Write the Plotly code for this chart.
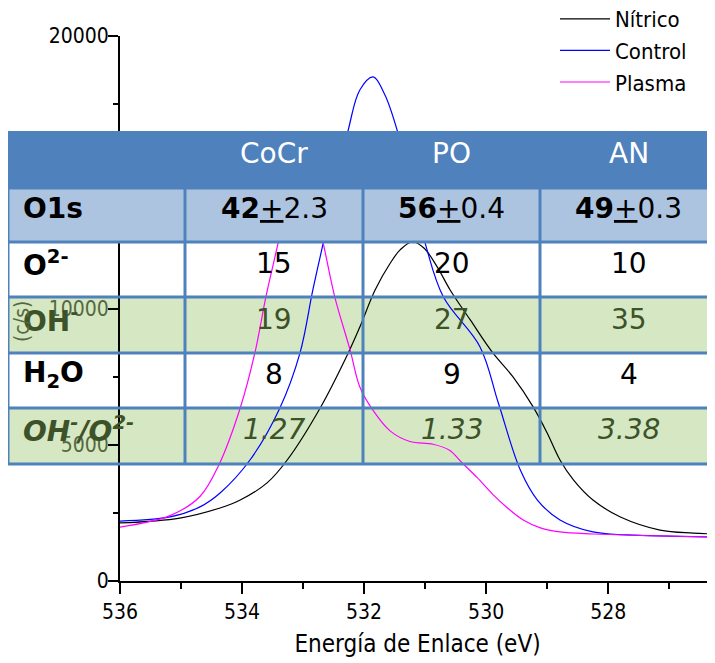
import plotly.graph_objects as go

# ---------------- data ----------------
nitrico_x = [536.00, 535.02, 534.36, 534.03, 533.59, 533.26, 532.72, 532.26, 532.07, 531.82, 531.57, 531.41,
             531.21, 531.02, 530.80, 530.59, 530.26, 529.89, 529.56, 529.23, 529.00, 528.79, 528.57,
             528.25, 527.80, 527.15, 526.61, 526.25]
nitrico_y = [2130, 2310, 2680, 2970, 3600, 4440, 6350, 8370, 9320, 10680, 11670, 12150,
             12450, 12220, 11520, 10680, 9580, 8370, 7490, 6390, 5430, 4440, 3710,
             2970, 2350, 1870, 1760, 1725]

control_x = [536.00, 535.18, 534.69, 534.36, 533.87, 533.38, 533.05, 532.84, 532.67, 532.26, 532.07, 531.85,
             531.66, 531.46, 531.00, 530.70, 530.10, 529.80, 529.44, 529.16, 528.79, 528.25,
             527.69, 526.25]
control_y = [2200, 2350, 2720, 3230, 4440, 6350, 8370, 10680, 12400, 16550, 18020, 18500,
             17840, 16550, 12400, 10420, 8590, 6530, 4070, 2970, 2240, 1800,
             1690, 1615]

plasma_x = [536.00, 535.18, 534.69, 534.38, 534.03, 533.79, 533.61, 533.41, 533.23, 533.05, 532.87, 532.67,
            532.48, 532.23, 532.07, 531.85, 531.57, 531.25, 530.87, 530.60, 530.40, 530.15, 529.90,
            529.65, 529.40, 529.11, 528.79, 528.25, 526.25]
plasma_y = [1980, 2400, 3100, 4260, 6350, 8370, 10420, 12400, 14350, 15270, 14350, 12400,
            10420, 8480, 7120, 6250, 5500, 5120, 5020, 4800, 4350, 3800, 3200,
            2680, 2250, 1950, 1800, 1725, 1615]

series_names = ["Nítrico", "Control", "Plasma"]

table_header = ["", "CoCr", "PO", "AN"]
row_labels = ["O1s", "O<sup>2-</sup>", "OH<sup>-</sup>", "H<sub>2</sub>O", "OH<sup>-</sup>/O<sup>2-</sup>"]
o1s_main = ["42", "56", "49"]
o1s_err = ["2.3", "0.4", "0.3"]
o2_vals = ["15", "20", "10"]
oh_vals = ["19", "27", "35"]
h2o_vals = ["8", "9", "4"]
ratio_vals = ["1.27", "1.33", "3.38"]

y_tickvals = [0, 5000, 10000, 15000, 20000]
y_ticklabels = ["0", "5000", "10000", "15000", "20000"]

# ---------------- geometry helpers (screen px; page body has an 8px margin) ----------------
OFF = 8
W, H = 715 - OFF, 663 - OFF
L, R, T, B = 120, 715, 36, 581   # plot area in screen px


def xp(px):
    return (px - L) / (R - L)


def yp(py):
    return (B - py) / (B - T)


NARROW = "DejaVu Sans Condensed"
TFONT = "DejaVu Sans, Verdana, sans-serif"
GREEN_TXT = "#3D5228"
TICK_GREEN = "#56683f"
BLUE = "#4F81BD"

fig = go.Figure()
colors = ["black", "#0000FF", "#FF00FF"]
for name, xs, ys, c in zip(series_names, [nitrico_x, control_x, plasma_x],
                           [nitrico_y, control_y, plasma_y], colors):
    fig.add_trace(go.Scatter(x=xs, y=ys, mode="lines", name=name,
                             line=dict(color=c, width=1.2, shape="spline", smoothing=1.0)))

# ---------------- table ----------------
cols_x = [8, 185, 363, 540, 717]
rows_y = [131, 188, 242, 297, 353, 408, 464]
row_fill = ["#4F81BD", "#ADC4E0", None, "#D5E8C3", None, "#D5E8C3"]
row_layer = ["above", "above", "below", "below", "below", "below"]

shapes = []
for i in range(6):
    if row_fill[i] is None:
        continue
    shapes.append(dict(type="rect", xref="paper", yref="paper",
                       x0=xp(cols_x[0]), x1=xp(cols_x[-1]),
                       y0=yp(rows_y[i + 1]), y1=yp(rows_y[i]),
                       fillcolor=row_fill[i], line=dict(width=0), layer=row_layer[i]))

for yy in rows_y[1:]:
    shapes.append(dict(type="line", xref="paper", yref="paper",
                       x0=xp(cols_x[0]), x1=xp(cols_x[-1]), y0=yp(yy), y1=yp(yy),
                       line=dict(color=BLUE, width=3), layer="above"))
for cx in cols_x:
    top = rows_y[0] if cx == cols_x[0] else rows_y[1]
    shapes.append(dict(type="line", xref="paper", yref="paper",
                       x0=xp(cx), x1=xp(cx), y0=yp(rows_y[-1]), y1=yp(top),
                       line=dict(color=BLUE, width=3), layer="above"))

annotations = []
TEXT_LIFT = 6


def cell_text(text, row, col, color="black", size=28, align="center"):
    yc = (rows_y[row] + rows_y[row + 1]) / 2 - TEXT_LIFT
    if align == "center":
        x = xp((cols_x[col] + cols_x[col + 1]) / 2)
        xa = "center"
    else:
        x = xp(cols_x[col] + 13)
        xa = "left"
    annotations.append(dict(text=text, x=x, y=yp(yc), xref="paper", yref="paper",
                            xanchor=xa, yanchor="middle", showarrow=False,
                            font=dict(family=TFONT, size=size, color=color)))


for c in range(1, 4):
    cell_text(table_header[c], 0, c, color="white")

label_colors = ["black", "black", GREEN_TXT, "black", GREEN_TXT]
for r, lab in enumerate(row_labels):
    txt = "<b>%s</b>" % lab
    if r == 4:
        txt = "<b><i>%s</i></b>" % lab
    cell_text(txt, r + 1, 0, color=label_colors[r], align="left")

for c in range(3):
    cell_text("<b>%s</b><u>+</u>%s" % (o1s_main[c], o1s_err[c]), 1, c + 1)
    cell_text(o2_vals[c], 2, c + 1)
    cell_text(oh_vals[c], 3, c + 1, color=GREEN_TXT)
    cell_text(h2o_vals[c], 4, c + 1)
    cell_text("<i>%s</i>" % ratio_vals[c], 5, c + 1, color=GREEN_TXT)

# partially visible y-axis title
annotations.append(dict(text="(c/s)", x=xp(22), y=yp(322), xref="paper", yref="paper",
                        xanchor="center", yanchor="middle", showarrow=False, textangle=-90,
                        font=dict(family=NARROW, size=21, color=TICK_GREEN)))

ticktext = []
for v, t in zip(y_tickvals, y_ticklabels):
    if v in (5000, 10000):
        ticktext.append("<span style='color:%s'>%s</span>" % (TICK_GREEN, t))
    else:
        ticktext.append(t)

fig.update_layout(
    width=W, height=H,
    margin=dict(l=L - OFF, r=W - (R - OFF), t=T - OFF, b=H - (B - OFF), autoexpand=False),
    paper_bgcolor="white", plot_bgcolor="rgba(0,0,0,0)",
    shapes=shapes, annotations=annotations,
    showlegend=True,
    legend=dict(x=xp(555), y=yp(-2), xanchor="left", yanchor="top",
                bgcolor="rgba(0,0,0,0)", font=dict(family=NARROW, size=22, color="black"),
                itemwidth=50, tracegroupgap=0),
    xaxis=dict(range=[536, 526.25], tickmode="linear", tick0=536, dtick=2,
               showline=True, linecolor="black", linewidth=2, mirror=False,
               ticks="outside", ticklen=11, tickwidth=2, tickcolor="black",
               minor=dict(tickmode="linear", tick0=535, dtick=1, ticks="outside",
                          ticklen=6, tickwidth=2, tickcolor="black"),
               showgrid=False, zeroline=False,
               tickfont=dict(family=NARROW, size=21, color="black"),
               title=dict(text="Energía de Enlace (eV)", standoff=12,
                          font=dict(family=NARROW, size=24, color="black"))),
    yaxis=dict(range=[0, 20000], tickmode="array", tickvals=y_tickvals, ticktext=ticktext,
               showline=True, linecolor="black", linewidth=2,
               ticks="outside", ticklen=10, tickwidth=2, tickcolor="black",
               ticklabelstandoff=-5,
               minor=dict(tickmode="linear", tick0=0, dtick=2500, ticks="outside",
                          ticklen=5, tickwidth=2, tickcolor="black"),
               showgrid=False, zeroline=False,
               tickfont=dict(family=NARROW, size=21, color="black")),
)

fig.write_html("out.html")
